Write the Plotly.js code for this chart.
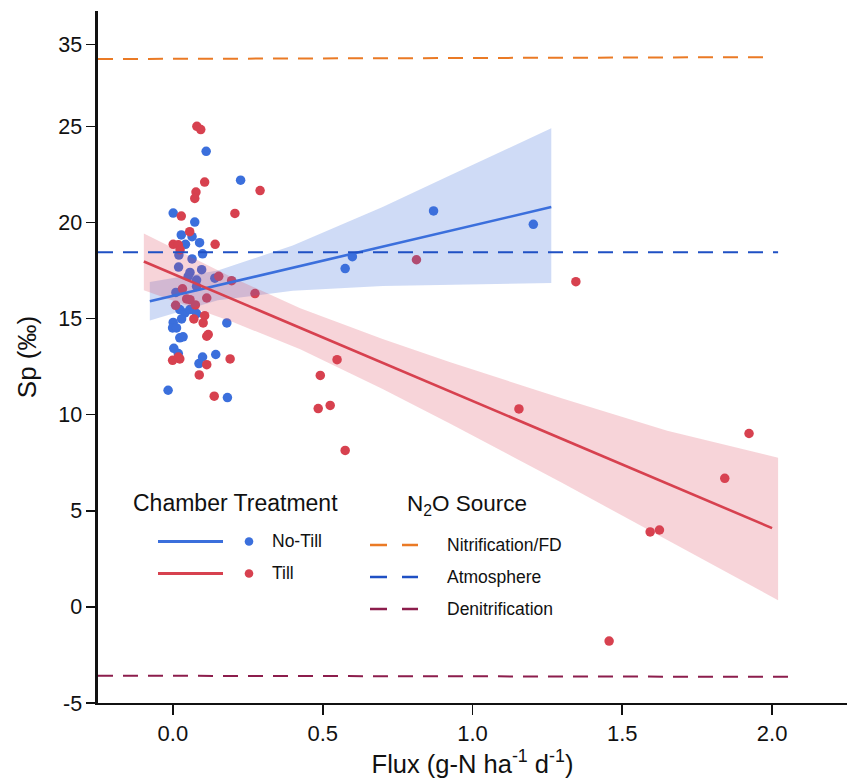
<!DOCTYPE html>
<html>
<head>
<meta charset="utf-8">
<script src="https://cdn.plot.ly/plotly-3.0.1.min.js"></script>
<style>html,body{margin:0;padding:0;background:#fff;}#chart{width:849px;height:780px;}</style>
</head>
<body>
<div id="chart"></div>
<script>
// ---- Data ----
const noTillX = [-0.016,0.001,0.111,0.226,0.073,0.028,0.064,0.042,0.089,0.099,0.020,0.064,0.019,0.057,0.096,0.051,0.079,0.140,0.010,0.079,0.023,0.040,0.057,0.079,0.029,0.001,-0.001,0.012,0.180,0.023,0.034,0.003,0.018,0.099,0.087,0.143,0.182,0.575,0.599,0.870,1.203];
const noTillY = [11.27,20.49,23.7,22.2,20.02,19.35,19.26,18.86,18.95,18.37,18.3,18.1,17.68,17.4,17.54,17.2,17.0,17.1,16.36,16.67,15.47,15.29,15.47,15.26,14.98,14.8,14.51,14.51,14.77,14.0,14.05,13.45,13.18,13.0,12.66,13.13,10.89,17.6,18.22,20.6,19.9];

const tillX = [0.080,0.093,0.106,0.291,0.077,0.073,0.028,0.207,0.056,0.001,0.018,0.141,0.024,0.153,0.196,0.274,0.032,0.113,0.046,0.057,0.009,0.075,0.070,0.106,0.101,0.118,0.113,-0.001,0.023,0.018,0.113,0.191,0.088,0.138,0.813,1.345,0.548,0.492,0.485,0.525,0.575,1.155,1.923,1.842,1.593,1.624,1.456];
const tillY = [25.0,24.83,22.1,21.66,21.58,21.25,20.33,20.47,19.52,18.86,18.84,18.86,18.58,17.2,16.97,16.3,16.55,16.07,16.02,15.98,15.69,15.71,14.98,15.15,14.77,14.17,14.08,12.83,12.9,13.0,12.6,12.9,12.07,10.96,18.06,16.92,12.86,12.04,10.32,10.48,8.14,10.3,9.02,6.69,3.9,4.0,-1.78];

// regression fits
const noTillFitX = [-0.077, 1.263];
const noTillFitY = [15.9, 20.8];
const tillFitX = [-0.097, 2.0];
const tillFitY = [17.97, 4.1];

// confidence bands
const noTillBandX = [-0.077, 0.15, 0.4, 0.7, 0.926, 1.263];
const noTillBandUp = [16.9, 17.5, 18.8, 20.8, 22.45, 24.9];
const noTillBandLo = [14.9, 15.95, 16.45, 16.7, 16.75, 16.85];

const tillBandX = [-0.097, 0.2, 0.425, 0.7, 0.926, 1.3, 1.65, 2.02];
const tillBandUp = [19.43, 17.12, 15.54, 13.94, 12.73, 10.84, 9.16, 7.76];
const tillBandLo = [16.47, 14.82, 13.4, 11.34, 9.53, 6.44, 3.46, 0.35];

// N2O source reference lines
const sourceNames = ["Nitrification/FD", "Atmosphere", "Denitrification"];
const sourceX = [[-0.25, 2.0], [-0.25, 2.02], [-0.25, 2.08]];
const sourceY = [[28.5, 28.6], [18.45, 18.45], [-3.58, -3.64]];

// axis ticks
const yTickVals = [-5, 0, 5, 10, 15, 20, 25, 29.25];
const yTickText = ["-5", "0", "5", "10", "15", "20", "25", "35"];
const xTickVals = [0, 0.5, 1.0, 1.5, 2.0];
const xTickText = ["0.0", "0.5", "1.0", "1.5", "2.0"];

// ---- Styles ----
const FONT = "Liberation Sans, Arial, Helvetica, sans-serif";
const BLUE = "#3b6fdc";
const RED = "#d7414f";
const BLUE_FILL = "rgba(65,110,220,0.25)";
const RED_FILL = "rgba(220,70,90,0.23)";
const sourceColors = ["#ea7a25", "#1f50c4", "#8c1d4c"];

function band(xs, up, lo) {
  return {
    x: xs.concat(xs.slice().reverse()),
    y: up.concat(lo.slice().reverse())
  };
}
const nb = band(noTillBandX, noTillBandUp, noTillBandLo);
const tb = band(tillBandX, tillBandUp, tillBandLo);

const traces = [
  {x: noTillX, y: noTillY, mode: "markers", type: "scatter", marker: {color: BLUE, size: 9.5}, hoverinfo: "skip"},
  {x: tillX, y: tillY, mode: "markers", type: "scatter", marker: {color: RED, size: 9.5}, hoverinfo: "skip"},
  {x: nb.x, y: nb.y, mode: "lines", fill: "toself", fillcolor: BLUE_FILL, line: {width: 0}, type: "scatter", hoverinfo: "skip"},
  {x: tb.x, y: tb.y, mode: "lines", fill: "toself", fillcolor: RED_FILL, line: {width: 0}, type: "scatter", hoverinfo: "skip"},
  {x: noTillFitX, y: noTillFitY, mode: "lines", line: {color: BLUE, width: 2.6}, type: "scatter"},
  {x: tillFitX, y: tillFitY, mode: "lines", line: {color: RED, width: 2.6}, type: "scatter"}
];
for (let i = 0; i < sourceNames.length; i++) {
  traces.push({x: sourceX[i], y: sourceY[i], mode: "lines", name: sourceNames[i],
    line: {color: sourceColors[i], width: 2, dash: "15px,10px"}, type: "scatter"});
}

// ---- Legend (drawn manually) ----
const L = 98, T = 11, W = 749, H = 692;
const px = v => (v - L) / W;
const py = v => (T + H - v) / H;
const shapes = [];
const annotations = [];
function text(t, x, y, size) {
  annotations.push({text: t, x: px(x), y: py(y), xref: "paper", yref: "paper",
    xanchor: "left", yanchor: "middle", showarrow: false, font: {family: FONT, size: size, color: "#111"}});
}
function hline(x0, x1, y, color, dash) {
  shapes.push({type: "line", xref: "paper", yref: "paper", x0: px(x0), x1: px(x1), y0: py(y), y1: py(y),
    line: {color: color, width: dash ? 2.5 : 3, dash: dash || "solid"}});
}
function dot(x, y, r, color) {
  shapes.push({type: "circle", xref: "paper", yref: "paper", x0: px(x - r), x1: px(x + r), y0: py(y + r), y1: py(y - r),
    fillcolor: color, line: {width: 0}});
}
text("Chamber Treatment", 131, 503, 23);
hline(158, 223, 541.5, BLUE);
hline(158, 223, 573.5, RED);
dot(249, 541.5, 4.3, BLUE);
dot(249, 573.5, 4.3, RED);
text("No-Till", 270, 541, 17.5);
text("Till", 270, 573, 17.5);
text("N<sub>2</sub>O Source", 405, 505, 22.5);
const legY = [545, 577, 609];
for (let i = 0; i < sourceNames.length; i++) {
  hline(370, 418, legY[i], sourceColors[i], "17px,15px");
  text(sourceNames[i], 445, legY[i], 17.5);
}

const layout = {
  width: 849, height: 780,
  margin: {l: L, r: 849 - L - W, t: T, b: 780 - T - H},
  paper_bgcolor: "#fff", plot_bgcolor: "#fff",
  showlegend: false,
  font: {family: FONT, color: "#111"},
  xaxis: {
    range: [-0.25, 2.25], tickvals: xTickVals, ticktext: xTickText,
    showgrid: false, zeroline: false, showline: true, linecolor: "#111", linewidth: 2,
    ticks: "outside", ticklen: 10, tickwidth: 1.6, tickcolor: "#111",
    tickfont: {family: FONT, size: 22, color: "#111"},
    title: {text: "Flux (g-N ha<sup>-1</sup> d<sup>-1</sup>)", font: {family: FONT, size: 25.5, color: "#111"}, standoff: 4}
  },
  yaxis: {
    range: [-5, 31], tickvals: yTickVals, ticktext: yTickText,
    showgrid: false, zeroline: false, showline: true, linecolor: "#111", linewidth: 2.6,
    ticks: "outside", ticklen: 9, tickwidth: 1.6, tickcolor: "#111",
    tickfont: {family: FONT, size: 21.5, color: "#111"},
    title: {text: "Sp (‰)", font: {family: FONT, size: 26, color: "#111"}, standoff: 14}
  },
  shapes: shapes,
  annotations: annotations
};

Plotly.newPlot("chart", traces, layout, {displayModeBar: false, staticPlot: true});
</script>
</body>
</html>
